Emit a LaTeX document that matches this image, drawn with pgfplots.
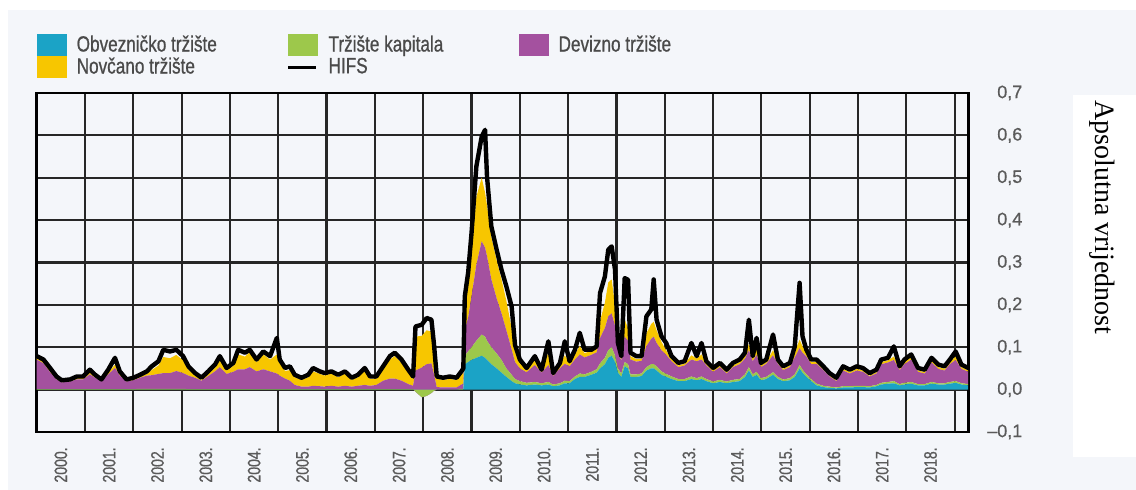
\documentclass[border=0pt]{standalone}
\usepackage{fontspec}
\setmainfont{Liberation Sans}
\newfontfamily\condfont[FakeStretch=0.78,FakeBold=0.8]{Liberation Sans}
\newfontfamily\tickfont[FakeBold=0.6]{Liberation Sans}
\newfontfamily\serifont{Liberation Serif}
\usepackage{pgfplots}
\pgfplotsset{compat=1.18}
\usepackage{pgfplotstable}

\definecolor{bondc}{HTML}{1BA3C6}
\definecolor{eqc}{HTML}{9DC84B}
\definecolor{fxc}{HTML}{A4519F}
\definecolor{monc}{HTML}{F7C600}
\definecolor{panel}{RGB}{244,246,250}
\definecolor{tickgray}{HTML}{5A5A5A}
\definecolor{leggray}{HTML}{4A4A4A}

% yr, components of the stacked index, HIFS
\pgfplotstableread{
yr bond eq fx mon hifs
2000.00 0 0.001 0.070 0.003 0.079
2000.14 0 0.001 0.061 0.004 0.071
2000.27 0 0.001 0.041 0.004 0.052
2000.41 0 0.001 0.023 0.003 0.031
2000.52 0 0.001 0.016 0.002 0.022
2000.69 0 0.001 0.018 0.002 0.024
2000.83 0 0.001 0.023 0.003 0.031
2000.96 0 0.001 0.023 0.003 0.031
2001.10 0 0.001 0.035 0.004 0.047
2001.21 0 0.001 0.027 0.003 0.035
2001.34 0 0.001 0.018 0.002 0.024
2001.48 0 0.001 0.035 0.004 0.047
2001.62 0 0.001 0.050 0.008 0.075
2001.72 0 0.001 0.032 0.004 0.043
2001.86 0 0.001 0.018 0.002 0.024
2002.00 0 0.001 0.021 0.002 0.028
2002.14 0 0.002 0.026 0.003 0.035
2002.28 0 0.002 0.031 0.004 0.043
2002.38 0 0.002 0.032 0.012 0.055
2002.52 0 0.002 0.035 0.020 0.067
2002.62 0 0.002 0.037 0.038 0.094
2002.76 0 0.002 0.037 0.035 0.090
2002.89 0 0.002 0.042 0.038 0.094
2003.03 0 0.002 0.037 0.030 0.079
2003.14 0 0.001 0.032 0.014 0.055
2003.28 0 0.001 0.027 0.005 0.039
2003.41 0 0.001 0.020 0.002 0.028
2003.55 0 0.001 0.031 0.005 0.043
2003.69 0 0.001 0.042 0.008 0.059
2003.79 0 0.001 0.052 0.018 0.079
2003.93 0 0.001 0.036 0.008 0.051
2004.07 0 0.001 0.041 0.014 0.063
2004.17 0 0.001 0.047 0.035 0.094
2004.31 0 0.001 0.047 0.030 0.087
2004.41 0 0.001 0.052 0.035 0.094
2004.55 0 0.001 0.042 0.022 0.071
2004.69 0 0.001 0.047 0.035 0.090
2004.83 0 0.001 0.042 0.028 0.079
2004.97 0 0.001 0.037 0.045 0.122
2005.03 0 0.001 0.032 0.030 0.071
2005.14 0 0.001 0.025 0.018 0.051
2005.24 0 0.001 0.020 0.025 0.055
2005.34 0 0.001 0.010 0.018 0.035
2005.48 0 0.001 0.006 0.016 0.028
2005.62 0 0.001 0.006 0.022 0.035
2005.72 0 0.001 0.008 0.034 0.051
2005.86 0 0.001 0.007 0.029 0.043
2005.96 0 0.001 0.006 0.026 0.039
2006.10 0 0.001 0.008 0.029 0.043
2006.24 0 0.001 0.006 0.022 0.035
2006.38 0 0.001 0.008 0.029 0.043
2006.52 0 0.001 0.006 0.016 0.028
2006.65 0 0.001 0.008 0.020 0.035
2006.79 0 0.001 0.010 0.034 0.051
2006.90 0 0.001 0.008 0.016 0.031
2007.03 0 0.001 0.010 0.015 0.031
2007.17 0 0.001 0.020 0.028 0.055
2007.31 0 0.001 0.025 0.045 0.079
2007.41 0 0.001 0.025 0.053 0.087
2007.55 0 0.001 0.020 0.042 0.071
2007.69 0 0.001 0.012 0.028 0.047
2007.79 0 0.001 0.008 0.016 0.031
2007.84 0 -0.005 0.050 0.080 0.149
2007.97 0 -0.018 0.070 0.075 0.153
2008.07 0 -0.015 0.075 0.080 0.169
2008.17 0 -0.008 0.070 0.075 0.165
2008.22 0 -0.003 0.040 0.050 0.110
2008.28 0 0 0.006 0.020 0.031
2008.41 0 0 0.005 0.018 0.028
2008.55 0 0 0.005 0.020 0.031
2008.69 0 0 0.005 0.018 0.028
2008.79 0 0.002 0.010 0.025 0.043
2008.83 0 0.002 0.012 0.025 0.050
2008.86 0.060 0.020 0.060 0.060 0.220
2008.93 0.065 0.025 0.080 0.080 0.276
2009.00 0.070 0.030 0.120 0.100 0.370
2009.10 0.075 0.040 0.180 0.160 0.527
2009.21 0.080 0.050 0.220 0.150 0.597
2009.28 0.075 0.050 0.210 0.130 0.613
2009.32 0.070 0.045 0.200 0.120 0.503
2009.41 0.060 0.040 0.160 0.100 0.385
2009.52 0.050 0.035 0.130 0.090 0.330
2009.62 0.040 0.030 0.110 0.080 0.283
2009.72 0.030 0.020 0.090 0.070 0.244
2009.83 0.020 0.015 0.060 0.050 0.196
2009.90 0.015 0.010 0.040 0.025 0.105
2010.00 0.012 0.008 0.030 0.012 0.071
2010.14 0.010 0.006 0.025 0.006 0.051
2010.31 0.012 0.006 0.040 0.012 0.079
2010.45 0.010 0.005 0.025 0.003 0.047
2010.59 0.012 0.006 0.040 0.030 0.114
2010.69 0.008 0.004 0.020 0.004 0.039
2010.83 0.010 0.005 0.035 0.010 0.063
2010.93 0.015 0.006 0.040 0.020 0.114
2011.03 0.015 0.005 0.035 0.008 0.067
2011.14 0.025 0.006 0.040 0.012 0.094
2011.24 0.030 0.008 0.045 0.020 0.134
2011.34 0.030 0.006 0.040 0.010 0.094
2011.48 0.035 0.007 0.040 0.010 0.094
2011.59 0.040 0.008 0.040 0.012 0.102
2011.66 0.050 0.012 0.060 0.040 0.228
2011.76 0.060 0.015 0.070 0.060 0.267
2011.83 0.075 0.018 0.080 0.080 0.330
2011.90 0.080 0.020 0.080 0.080 0.338
2011.97 0.065 0.015 0.070 0.050 0.283
2012.03 0.040 0.010 0.040 0.010 0.110
2012.10 0.030 0.008 0.030 0.005 0.079
2012.17 0.055 0.010 0.060 0.040 0.263
2012.24 0.050 0.010 0.055 0.030 0.259
2012.29 0.030 0.006 0.035 0.008 0.087
2012.41 0.030 0.006 0.030 0.006 0.079
2012.52 0.032 0.006 0.030 0.005 0.079
2012.62 0.045 0.008 0.050 0.030 0.173
2012.72 0.050 0.010 0.060 0.035 0.189
2012.77 0.050 0.010 0.065 0.035 0.260
2012.83 0.045 0.010 0.055 0.030 0.165
2012.93 0.035 0.008 0.050 0.020 0.126
2013.03 0.030 0.007 0.045 0.010 0.110
2013.14 0.025 0.006 0.036 0.006 0.079
2013.28 0.020 0.005 0.028 0.004 0.063
2013.41 0.020 0.005 0.032 0.004 0.067
2013.55 0.025 0.006 0.040 0.010 0.110
2013.66 0.022 0.005 0.040 0.006 0.079
2013.76 0.025 0.006 0.040 0.012 0.110
2013.86 0.020 0.005 0.032 0.004 0.067
2014.00 0.015 0.004 0.023 0.003 0.051
2014.14 0.018 0.005 0.030 0.004 0.063
2014.28 0.015 0.004 0.019 0.003 0.047
2014.41 0.018 0.005 0.030 0.004 0.063
2014.55 0.020 0.005 0.035 0.005 0.071
2014.66 0.030 0.006 0.037 0.008 0.087
2014.74 0.045 0.008 0.040 0.015 0.165
2014.82 0.030 0.006 0.031 0.006 0.079
2014.90 0.035 0.007 0.040 0.015 0.122
2014.99 0.022 0.005 0.026 0.004 0.063
2015.10 0.025 0.005 0.031 0.004 0.071
2015.24 0.035 0.006 0.040 0.012 0.130
2015.34 0.025 0.005 0.031 0.004 0.071
2015.45 0.020 0.004 0.022 0.003 0.055
2015.59 0.022 0.005 0.026 0.004 0.063
2015.69 0.030 0.006 0.040 0.012 0.102
2015.79 0.050 0.008 0.040 0.020 0.252
2015.85 0.040 0.007 0.040 0.015 0.126
2015.93 0.030 0.006 0.042 0.010 0.094
2016.03 0.020 0.005 0.035 0.005 0.071
2016.14 0.010 0.004 0.047 0.004 0.071
2016.28 0.006 0.003 0.037 0.003 0.055
2016.41 0.004 0.003 0.024 0.002 0.039
2016.55 0.003 0.002 0.015 0.002 0.028
2016.69 0.005 0.003 0.037 0.004 0.055
2016.83 0.005 0.003 0.030 0.003 0.047
2016.97 0.006 0.003 0.036 0.004 0.055
2017.10 0.006 0.003 0.033 0.003 0.051
2017.24 0.005 0.003 0.023 0.002 0.039
2017.38 0.008 0.003 0.027 0.003 0.047
2017.48 0.012 0.004 0.044 0.005 0.071
2017.62 0.014 0.004 0.046 0.005 0.075
2017.74 0.015 0.005 0.050 0.008 0.102
2017.86 0.010 0.003 0.033 0.003 0.055
2017.96 0.012 0.004 0.044 0.005 0.071
2018.10 0.014 0.004 0.053 0.006 0.083
2018.24 0.010 0.003 0.029 0.003 0.051
2018.38 0.010 0.003 0.025 0.003 0.047
2018.52 0.014 0.004 0.046 0.005 0.075
2018.66 0.012 0.003 0.034 0.004 0.059
2018.79 0.012 0.003 0.030 0.004 0.055
2018.90 0.014 0.004 0.042 0.005 0.071
2019.02 0.016 0.004 0.050 0.008 0.090
2019.14 0.012 0.003 0.034 0.004 0.059
2019.28 0.010 0.003 0.029 0.003 0.051
}\hifsdata

\pgfplotsset{
  hifsframe/.style={
    at={(18.35pt,29pt)}, anchor=south west,
    scale only axis, width=466pt, height=169.5pt,
    xmin=2000, xmax=2019.29, ymin=-0.1, ymax=0.7,
  }
}

\begin{document}
\begin{tikzpicture}
\useasboundingbox (0,0) rectangle (568pt,245pt);
\fill[white] (0,0) rectangle (568pt,245pt);
\fill[panel] (4pt,0) rectangle (568pt,240pt);
\fill[white] (536.5pt,16.5pt) rectangle (568pt,197.5pt);
\node[rotate=-90, anchor=west, inner sep=0pt, font=\serifont\fontsize{14}{16}\selectfont]
  at (551pt,195pt) {Apsolutna vrijednost};

\begin{axis}[hifsframe,
  stack plots=y,
  xtick={2000.5,2001.5,2002.5,2003.5,2004.5,2005.5,2006.5,2007.5,2008.5,2009.5,2010.5,2011.5,2012.5,2013.5,2014.5,2015.5,2016.5,2017.5,2018.5},
  xticklabels={2000.,2001.,2002.,2003.,2004.,2005.,2006.,2007.,2008.,2009.,2010.,2011.,2012.,2013.,2014.,2015.,2016.,2017.,2018.},
  minor xtick={2001,2002,...,2019},
  ytick={-0.1,0,0.1,0.2,0.3,0.4,0.5,0.6,0.7},
  yticklabels={{\textendash0,1},{0,0},{0,1},{0,2},{0,3},{0,4},{0,5},{0,6},{0,7}},
  yticklabel pos=right,
  xticklabel style={rotate=90, anchor=east, inner sep=0pt, font=\condfont\fontsize{9}{10}\selectfont, text=tickgray},
  xticklabel shift=7.5pt,
  yticklabel style={anchor=east, inner sep=0pt, font=\tickfont\fontsize{9}{10}\selectfont, text=tickgray},
  yticklabel shift=27pt,
  major tick length=0pt, minor tick length=0pt,
  xmajorgrids=false, xminorgrids=true, ymajorgrids=true,
  grid style={line width=1.1pt, black!85},
  minor grid style={line width=1.1pt, black!85},
  axis line style={line width=1.4pt, black},
  legend columns=3,
  legend cell align=left,
  legend style={at={(axis description cs:0,1.174)}, anchor=north west,
    draw=none, fill=none, inner sep=0pt, outer sep=0pt, row sep=0pt,
    nodes={inner sep=0pt}, font=\condfont\fontsize{11}{12}\selectfont, text=leggray},
  legend image code/.code={\fill[#1] (0pt,-5.5pt) rectangle (15pt,5.5pt); \path (20pt,0pt);},
]
\addplot[fill=bondc, draw=none] table[x=yr, y=bond]{\hifsdata} \closedcycle;
\addlegendentry{\makebox[105pt][l]{Obvezničko tržište}}
\addplot[fill=eqc, draw=none] table[x=yr, y=eq]{\hifsdata} \closedcycle;
\addlegendentry{\makebox[95pt][l]{Tržište kapitala}}
\addplot[fill=fxc, draw=none] table[x=yr, y=fx]{\hifsdata} \closedcycle;
\addlegendentry{Devizno tržište}
\addplot[fill=monc, draw=none] table[x=yr, y=mon]{\hifsdata} \closedcycle;
\addlegendentry{\makebox[105pt][l]{Novčano tržište}}
\addlegendimage{legend image code/.code={\draw[black, line width=1.5pt] (0pt,0pt) -- (14pt,0pt); \path (20pt,0pt);}}
\addlegendentry{\makebox[95pt][l]{HIFS}}
\end{axis}

\begin{axis}[hifsframe, hide axis]
\addplot[black, line width=2.2pt, line join=round] table[x=yr, y=hifs]{\hifsdata};
\end{axis}
\end{tikzpicture}
\end{document}
